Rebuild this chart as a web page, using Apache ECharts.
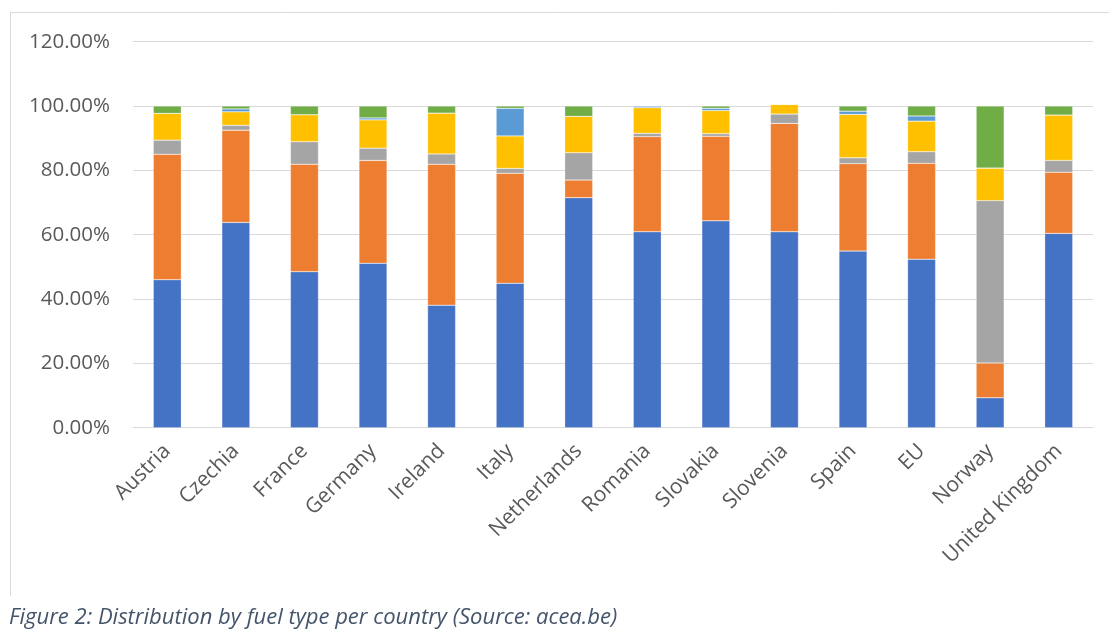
<!DOCTYPE html>
<html>
<head>
<meta charset="utf-8">
<script src="https://cdn.jsdelivr.net/npm/echarts@6/dist/echarts.min.js"></script>
<style>
html,body{margin:0;padding:0;background:#fff;}
#chart{width:1109px;height:643px;}
</style>
</head>
<body>
<div id="chart"></div>
<script>
const countries = ["Austria","Czechia","France","Germany","Ireland","Italy","Netherlands","Romania","Slovakia","Slovenia","Spain","EU","Norway","United Kingdom"];
const seriesBlue   = [0.460,0.638,0.485,0.511,0.381,0.449,0.715,0.609,0.643,0.609,0.549,0.524,0.093,0.604];
const seriesOrange = [0.390,0.287,0.334,0.320,0.438,0.342,0.055,0.296,0.263,0.337,0.272,0.298,0.108,0.190];
const seriesGray   = [0.044,0.015,0.070,0.038,0.032,0.015,0.085,0.010,0.008,0.029,0.018,0.036,0.505,0.037];
const seriesYellow = [0.083,0.042,0.084,0.088,0.127,0.101,0.113,0.080,0.072,0.030,0.135,0.095,0.101,0.141];
const seriesLtBlue = [0.000,0.009,0.000,0.006,0.000,0.086,0.000,0.005,0.007,0.000,0.010,0.016,0.000,0.000];
const seriesGreen  = [0.023,0.009,0.027,0.037,0.022,0.007,0.032,0.000,0.007,0.000,0.016,0.031,0.193,0.028];
const yTicks = [0, 0.2, 0.4, 0.6, 0.8, 1.0, 1.2];
const caption = "Figure 2: Distribution by fuel type per country (Source: acea.be)";

const names = ["Petrol","Diesel","Gray","HEV","Light blue","BEV"];
const colors = ["#4472C4","#ED7D31","#A5A5A5","#FFC000","#5B9BD5","#70AD47"];
const data = [seriesBlue, seriesOrange, seriesGray, seriesYellow, seriesLtBlue, seriesGreen];

const chart = echarts.init(document.getElementById('chart'), null, {renderer:'canvas'});
const font = "'Open Sans', Lato, sans-serif";
chart.setOption({
  animation:false,
  backgroundColor:'#fff',
  grid:{left:133, right:16, top:41.7, bottom:215.3, containLabel:false},
  xAxis:{
    type:'category', data:countries,
    axisLine:{show:true, lineStyle:{color:'#D9D9D9', width:1}},
    axisTick:{show:false},
    axisLabel:{rotate:45, margin:20, color:'#595959', fontSize:21, fontFamily:font, interval:0}
  },
  yAxis:{
    type:'value', min:yTicks[0], max:yTicks[yTicks.length-1], interval:0.2,
    axisLine:{show:false}, axisTick:{show:false},
    splitLine:{lineStyle:{color:'#D9D9D9', width:1}},
    axisLabel:{margin:23, color:'#595959', fontSize:20.5, fontFamily:font,
      formatter:v=>(v*100).toFixed(2)+'%'}
  },
  series: data.map((d,i)=>({
    name:names[i], type:'bar', stack:'total', data:d,
    barWidth:28,
    itemStyle:{color:colors[i], borderColor:'rgba(255,255,255,0.5)', borderWidth:0.5}
  })),
  graphic:[
    {type:'line', shape:{x1:10,y1:12.5,x2:1109,y2:12.5}, style:{stroke:'#D9D9D9', lineWidth:1}},
    {type:'line', shape:{x1:10.5,y1:12,x2:10.5,y2:596}, style:{stroke:'#D9D9D9', lineWidth:1}},
    {type:'text', left:9, top:607, style:{text:caption, fill:'#44546A', font:"italic 22px "+font}}
  ]
});
</script>
</body>
</html>
